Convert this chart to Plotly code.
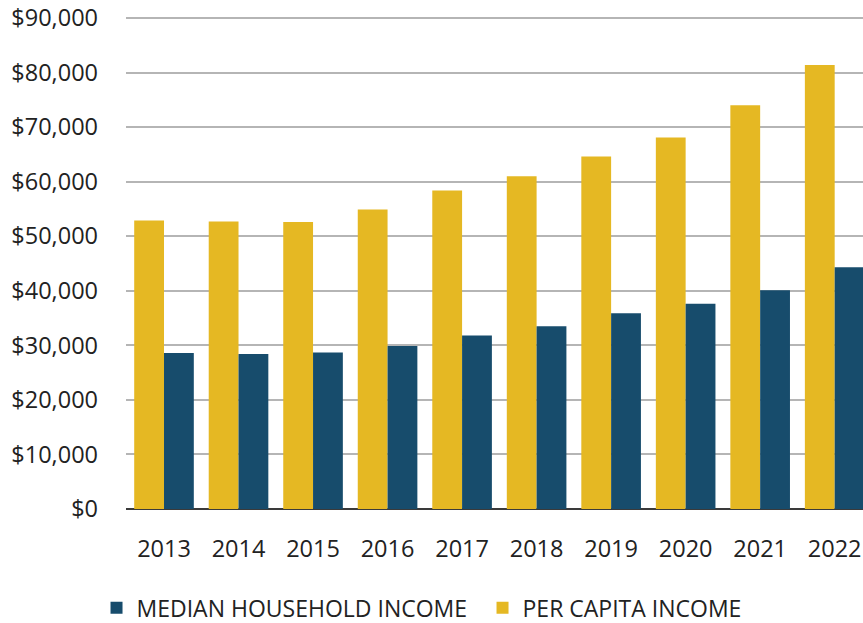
import plotly.graph_objects as go

years = ["2013", "2014", "2015", "2016", "2017", "2018", "2019", "2020", "2021", "2022"]
per_capita = [52900, 52700, 52600, 54900, 58400, 61000, 64600, 68100, 74000, 81400]
median_household = [28600, 28400, 28700, 29900, 31800, 33500, 35900, 37600, 40100, 44300]
y_ticks = [0, 10000, 20000, 30000, 40000, 50000, 60000, 70000, 80000, 90000]
y_tick_labels = ["$0", "$10,000", "$20,000", "$30,000", "$40,000", "$50,000",
                 "$60,000", "$70,000", "$80,000", "$90,000"]

YELLOW = "#E5B823"
BLUE = "#174C6C"
FONT = "Open Sans"

fig = go.Figure()
fig.add_trace(go.Bar(x=years, y=per_capita, name="PER CAPITA INCOME",
                     marker=dict(color=YELLOW, line=dict(width=0))))
fig.add_trace(go.Bar(x=years, y=median_household, name="MEDIAN HOUSEHOLD INCOME",
                     marker=dict(color=BLUE, line=dict(width=0))))

fig.update_layout(
    width=863, height=623,
    margin=dict(l=126, r=0, t=12, b=114, pad=0, autoexpand=False),
    paper_bgcolor="white", plot_bgcolor="white",
    barmode="group", bargap=0.2, bargroupgap=0,
    font=dict(family=FONT, size=23, color="#222222"),
    showlegend=True,
    legend=dict(orientation="h", traceorder="reversed",
                x=-0.040, xanchor="left", y=-0.199, yanchor="middle",
                font=dict(family=FONT, size=23, color="#222222"),
                itemwidth=30, entrywidth=341, entrywidthmode="pixels"),
    xaxis=dict(type="category", range=[-0.51, 9.38], automargin=False,
               showgrid=False, showline=False, ticks="",
               ticklabeloverflow="allow",
               ticklabelstandoff=23, tickfont=dict(size=23.5)),
    yaxis=dict(range=[0, 91100], tickvals=y_ticks, ticktext=y_tick_labels,
               automargin=False, ticklabeloverflow="allow",
               showgrid=True, gridcolor="#B5B5B5", gridwidth=1.6,
               zeroline=True, zerolinecolor="#3A3A3A", zerolinewidth=1.6,
               showline=False, ticks="", ticklabelstandoff=27,
               tickfont=dict(size=23.5)),
)

fig.write_html("out.html", config={"displayModeBar": False},
               post_script="document.body.style.margin='0';")
